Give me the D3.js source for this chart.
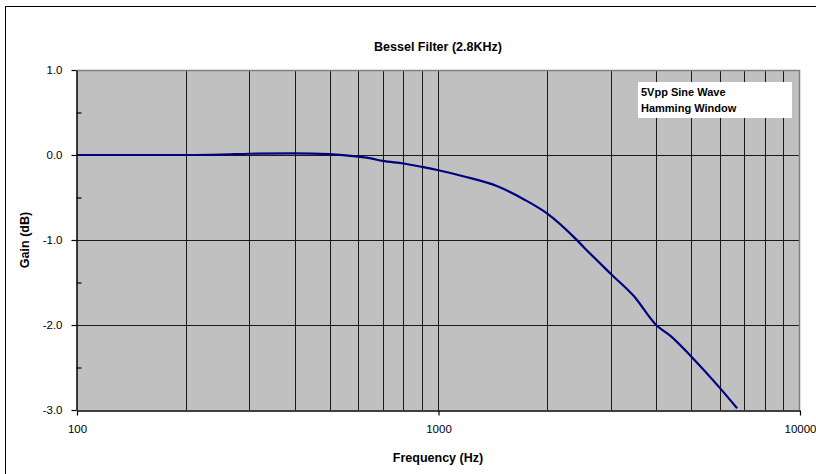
<!DOCTYPE html>
<html>
<head>
<meta charset="utf-8">
<script src="https://cdn.jsdelivr.net/npm/d3@7"></script>
<style>
  html, body { margin: 0; padding: 0; background: #fff; }
  svg { display: block; font-family: "Liberation Sans", Arial, sans-serif; }
</style>
</head>
<body>
<svg id="chart" width="816" height="474"></svg>
<script>
// Measured frequency response of the Bessel filter
const frequencies = [100, 150, 200, 250, 300, 400, 500, 600, 650, 700, 800, 900,
  1000, 1170, 1450, 1720, 2000, 2400, 2530, 3000, 3470, 4000, 4390, 5000, 6000, 6700];
const gains = [0, 0, 0, 0.005, 0.015, 0.02, 0.01, -0.02, -0.04, -0.07, -0.10, -0.14,
  -0.18, -0.25, -0.365, -0.52, -0.69, -0.99, -1.09, -1.40, -1.66, -2.00, -2.13, -2.37, -2.74, -2.98];

const xMajorTicks = [100, 1000, 10000];
const xGridValues = [200, 300, 400, 500, 600, 700, 800, 900, 1000,
  2000, 3000, 4000, 5000, 6000, 7000, 8000, 9000];
const yMajorTicks = [1, 0, -1, -2, -3];
const yMinorTicks = [0.5, -0.5, -1.5, -2.5];
const yGridValues = [0, -1, -2];
const legendLines = ["5Vpp Sine Wave", "Hamming Window"];

const svg = d3.select("#chart");
const margin = { left: 77, right: 800, top: 70, bottom: 410 };

const x = d3.scaleLog().domain([100, 10000]).range([margin.left, margin.right]);
const y = d3.scaleLinear().domain([-3, 1]).range([margin.bottom, margin.top]);

// Outer chart frame
svg.append("rect")
  .attr("x", 5.5).attr("y", 6.5).attr("width", 830).attr("height", 480)
  .attr("fill", "#fff").attr("stroke", "#000").attr("stroke-width", 1);

// Plot background
svg.append("rect")
  .attr("x", margin.left).attr("y", margin.top)
  .attr("width", margin.right - margin.left).attr("height", margin.bottom - margin.top)
  .attr("fill", "#c0c0c0");

// Gridlines
const grid = svg.append("g").attr("stroke", "#1a1a1a").attr("stroke-width", 1);
grid.selectAll("line.vx").data(xGridValues).join("line")
  .attr("x1", d => Math.round(x(d)) + 0.5).attr("x2", d => Math.round(x(d)) + 0.5)
  .attr("y1", margin.top).attr("y2", margin.bottom);
grid.selectAll("line.hy").data(yGridValues).join("line")
  .attr("y1", d => Math.round(y(d)) + 0.5).attr("y2", d => Math.round(y(d)) + 0.5)
  .attr("x1", margin.left).attr("x2", margin.right);

// Top and right border of the plot area
svg.append("path")
  .attr("d", `M${margin.left},${margin.top + 0.5}H${margin.right - 0.5}V${margin.bottom}`)
  .attr("fill", "none").attr("stroke", "#808080").attr("stroke-width", 1.5);

// Response curve
const line = d3.line()
  .x((d, i) => x(frequencies[i]))
  .y(d => y(d))
  .curve(d3.curveMonotoneX);
svg.append("path")
  .datum(gains)
  .attr("d", line)
  .attr("fill", "none")
  .attr("stroke", "#000080")
  .attr("stroke-width", 2.2)
  .attr("stroke-linejoin", "round");

// Axes
const xAxis = d3.axisBottom(x).tickValues(xMajorTicks).tickFormat(d3.format("d"))
  .tickSizeInner(5).tickSizeOuter(0).tickPadding(9);
const gx = svg.append("g").attr("transform", `translate(0,${margin.bottom + 0.5})`).call(xAxis);

const yAxis = d3.axisLeft(y).tickValues(yMajorTicks).tickFormat(d => d.toFixed(1))
  .tickSizeInner(5).tickSizeOuter(0).tickPadding(9);
const gy = svg.append("g").attr("transform", `translate(${margin.left - 0.5},0)`).call(yAxis);

// Minor ticks on the gain axis, pointing into the plot
const yMinorAxis = d3.axisRight(y).tickValues(yMinorTicks).tickFormat("")
  .tickSizeInner(5).tickSizeOuter(0);
const gyMinor = svg.append("g").attr("transform", `translate(${margin.left - 0.5},0)`).call(yMinorAxis);
gyMinor.select(".domain").remove();

[gx, gy, gyMinor].forEach(g => {
  g.selectAll(".domain").attr("stroke", "#000").attr("stroke-width", 1.5);
  g.selectAll(".tick line").attr("stroke", "#000").attr("stroke-width", 1.2);
  g.selectAll(".tick text").attr("fill", "#000")
    .style("font-family", "'Liberation Sans', Arial, sans-serif").style("font-size", "11.5px");
});

// Title and axis titles
svg.append("text")
  .attr("x", 438).attr("y", 51).attr("text-anchor", "middle")
  .style("font-size", "12.5px").style("font-weight", "bold")
  .text("Bessel Filter (2.8KHz)");

svg.append("text")
  .attr("x", 438).attr("y", 462).attr("text-anchor", "middle")
  .style("font-size", "12.5px").style("font-weight", "bold")
  .text("Frequency (Hz)");

svg.append("text")
  .attr("transform", `translate(29,${(margin.top + margin.bottom) / 2}) rotate(-90)`)
  .attr("text-anchor", "middle")
  .style("font-size", "12.5px").style("font-weight", "bold")
  .text("Gain (dB)");

// Annotation box
const legend = svg.append("g");
legend.append("rect")
  .attr("x", 638).attr("y", 82).attr("width", 154).attr("height", 36)
  .attr("fill", "#fff");
legend.selectAll("text").data(legendLines).join("text")
  .attr("x", 641).attr("y", (d, i) => 96 + i * 16)
  .style("font-size", "11px").style("font-weight", "bold")
  .text(d => d);
</script>
</body>
</html>
